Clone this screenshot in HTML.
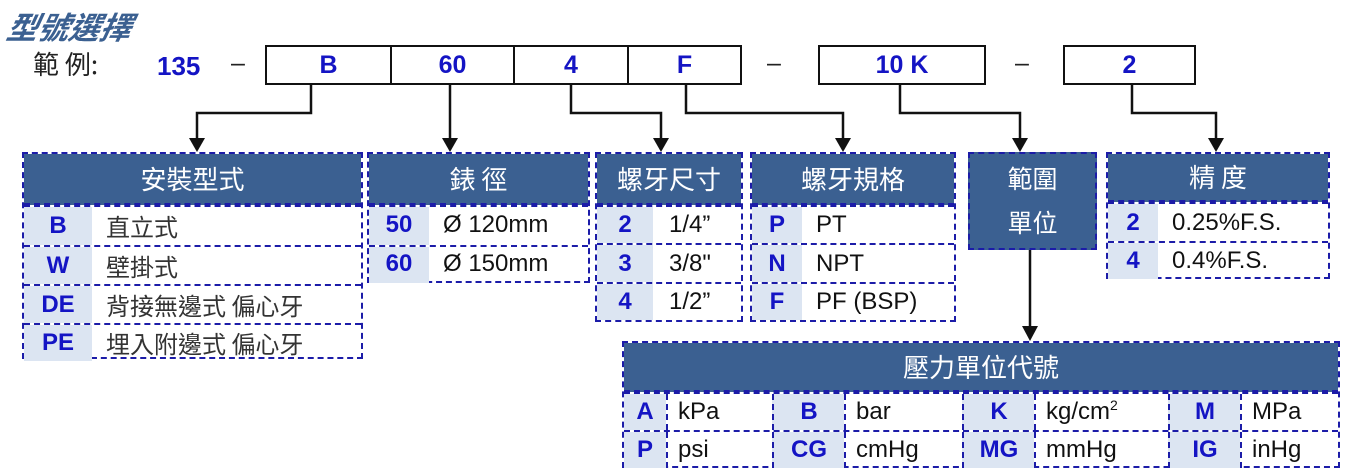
<!DOCTYPE html>
<html><head><meta charset="utf-8"><style>
body{margin:0;width:1350px;height:474px;background:#fff;position:relative;overflow:hidden;font-family:"Liberation Sans","Noto Sans CJK TC",sans-serif;}
.a{position:absolute;}
.t{position:absolute;border:2px dashed #1c1ca8;box-sizing:border-box;background:#fff;}
.h{background:#3b6091;color:#fff;font-size:26px;text-align:center;box-sizing:border-box;border-bottom:2px dashed #1c1ca8;}
.r{display:flex;box-sizing:border-box;border-top:2px dashed #1c1ca8;font-size:24px;color:#111;}
.r:first-of-type{border-top:none}
.c{background:#dce5f2;color:#1414c4;font-weight:bold;text-align:center;box-sizing:border-box;}
.v{padding-left:14px;white-space:nowrap;}
.box{position:absolute;top:45px;height:40px;border:2px solid #111;box-sizing:border-box;color:#1414c4;font-weight:bold;font-size:25px;text-align:center;line-height:36px;}
.cj{font-family:"Noto Sans CJK TC","Liberation Sans",sans-serif;}
sup{font-size:14px;line-height:0;vertical-align:9px;}
</style></head><body>
<div class="a" style="left:8px;top:3px;font-size:31px;font-weight:bold;font-style:italic;color:#3b6091;transform:skewX(-12deg);font-family:'Noto Sans CJK TC',sans-serif;">型號選擇</div>
<div class="a cj" style="left:33px;top:45px;font-size:26px;color:#222;">範 例:</div>
<div class="a" style="left:157px;top:51px;font-size:26px;font-weight:bold;color:#1414c4;">135</div>
<div class="a" style="left:231px;top:49px;font-size:25px;color:#222;">–</div>
<div class="a" style="left:767px;top:49px;font-size:25px;color:#222;">–</div>
<div class="a" style="left:1015px;top:49px;font-size:25px;color:#222;">–</div>
<div class="box" style="left:265px;width:127px;">B</div>
<div class="box" style="left:390px;width:125px;">60</div>
<div class="box" style="left:513px;width:116px;">4</div>
<div class="box" style="left:627px;width:115px;">F</div>
<div class="box" style="left:818px;width:168px;">10 K</div>
<div class="box" style="left:1063px;width:133px;">2</div>
<svg class="a" style="left:0;top:0" width="1350" height="474">
<g stroke="#111" stroke-width="2.5" fill="none">
<polyline points="311,84 311,113 197,113 197,140"/>
<polyline points="450,84 450,140"/>
<polyline points="571,84 571,113 661,113 661,140"/>
<polyline points="686,84 686,113 843,113 843,140"/>
<polyline points="900,84 900,113 1020,113 1020,140"/>
<polyline points="1132,84 1132,113 1216,113 1216,140"/>
<polyline points="1030,250 1030,328"/>
</g>
<g fill="#111">
<polygon points="189,138 205,138 197,152"/>
<polygon points="442,138 458,138 450,152"/>
<polygon points="653,138 669,138 661,152"/>
<polygon points="835,138 851,138 843,152"/>
<polygon points="1012,138 1028,138 1020,152"/>
<polygon points="1208,138 1224,138 1216,152"/>
<polygon points="1022,326 1038,326 1030,341"/>
</g>
</svg>

<div class="t" style="left:22px;top:152px;width:341px;height:207px;">
<div class="h cj" style="height:51px;line-height:49px;">安裝型式</div>
<div class="r" style="height:40px;line-height:38px;"><div class="c" style="width:68px">B</div><div class="v cj" style="color:#333">直立式</div></div>
<div class="r" style="height:39px;line-height:37px;"><div class="c" style="width:68px">W</div><div class="v cj" style="color:#333">壁掛式</div></div>
<div class="r" style="height:39px;line-height:37px;"><div class="c" style="width:68px">DE</div><div class="v cj" style="color:#333">背接無邊式 偏心牙</div></div>
<div class="r" style="height:38px;line-height:36px;"><div class="c" style="width:68px">PE</div><div class="v cj" style="color:#333">埋入附邊式 偏心牙</div></div>
</div>

<div class="t" style="left:367px;top:152px;width:223px;height:131px;">
<div class="h cj" style="height:51px;line-height:49px;">錶 徑</div>
<div class="r" style="height:40px;line-height:36px;"><div class="c" style="width:60px">50</div><div class="v">Ø 120mm</div></div>
<div class="r" style="height:38px;line-height:34px;"><div class="c" style="width:60px">60</div><div class="v">Ø 150mm</div></div>
</div>

<div class="t" style="left:595px;top:152px;width:148px;height:170px;">
<div class="h cj" style="height:51px;line-height:49px;">螺牙尺寸</div>
<div class="r" style="height:38px;line-height:36px;"><div class="c" style="width:56px">2</div><div class="v" style="padding-left:16px">1/4”</div></div>
<div class="r" style="height:39px;line-height:37px;"><div class="c" style="width:56px">3</div><div class="v" style="padding-left:16px">3/8"</div></div>
<div class="r" style="height:38px;line-height:36px;"><div class="c" style="width:56px">4</div><div class="v" style="padding-left:16px">1/2”</div></div>
</div>

<div class="t" style="left:750px;top:152px;width:206px;height:170px;">
<div class="h cj" style="height:51px;line-height:49px;">螺牙規格</div>
<div class="r" style="height:38px;line-height:36px;"><div class="c" style="width:50px">P</div><div class="v">PT</div></div>
<div class="r" style="height:39px;line-height:37px;"><div class="c" style="width:50px">N</div><div class="v">NPT</div></div>
<div class="r" style="height:38px;line-height:36px;"><div class="c" style="width:50px">F</div><div class="v">PF (BSP)</div></div>
</div>

<div class="t cj" style="left:968px;top:152px;width:129px;height:98px;background:#3b6091;color:#fff;font-size:25px;text-align:center;line-height:44px;padding-top:2px;">範圍<br>單位</div>

<div class="t" style="left:1106px;top:152px;width:224px;height:127px;">
<div class="h cj" style="height:48px;line-height:46px;">精 度</div>
<div class="r" style="height:39px;line-height:37px;"><div class="c" style="width:50px">2</div><div class="v">0.25%F.S.</div></div>
<div class="r" style="height:38px;line-height:36px;"><div class="c" style="width:50px">4</div><div class="v">0.4%F.S.</div></div>
</div>

<div class="t" style="left:622px;top:341px;width:718px;height:127px;">
<div class="h cj" style="height:49px;line-height:47px;">壓力單位代號</div>
<div class="r" style="height:38px;line-height:36px;">
<div class="c" style="width:42px">A</div><div class="v" style="width:106px;border-left:2px dashed #1c1ca8;box-sizing:border-box;padding-left:10px">kPa</div>
<div class="c" style="width:72px;border-left:2px dashed #1c1ca8">B</div><div class="v" style="width:118px;border-left:2px dashed #1c1ca8;box-sizing:border-box;padding-left:10px">bar</div>
<div class="c" style="width:72px;border-left:2px dashed #1c1ca8">K</div><div class="v" style="width:134px;border-left:2px dashed #1c1ca8;box-sizing:border-box;padding-left:10px">kg/cm<sup>2</sup></div>
<div class="c" style="width:72px;border-left:2px dashed #1c1ca8">M</div><div class="v" style="flex:1;border-left:2px dashed #1c1ca8;box-sizing:border-box;padding-left:10px">MPa</div>
</div>
<div class="r" style="height:38px;line-height:36px;">
<div class="c" style="width:42px">P</div><div class="v" style="width:106px;border-left:2px dashed #1c1ca8;box-sizing:border-box;padding-left:10px">psi</div>
<div class="c" style="width:72px;border-left:2px dashed #1c1ca8">CG</div><div class="v" style="width:118px;border-left:2px dashed #1c1ca8;box-sizing:border-box;padding-left:10px">cmHg</div>
<div class="c" style="width:72px;border-left:2px dashed #1c1ca8">MG</div><div class="v" style="width:134px;border-left:2px dashed #1c1ca8;box-sizing:border-box;padding-left:10px">mmHg</div>
<div class="c" style="width:72px;border-left:2px dashed #1c1ca8">IG</div><div class="v" style="flex:1;border-left:2px dashed #1c1ca8;box-sizing:border-box;padding-left:10px">inHg</div>
</div>
</div>
</body></html>
